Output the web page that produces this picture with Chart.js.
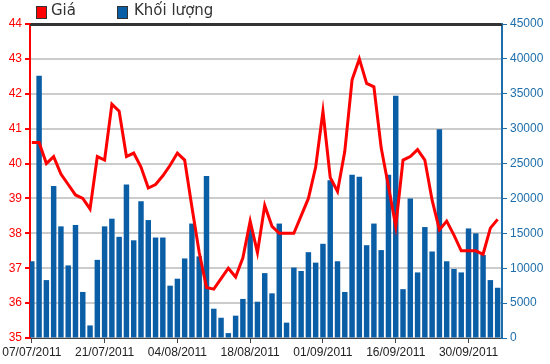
<!DOCTYPE html>
<html>
<head>
<meta charset="utf-8">
<script src="https://cdn.jsdelivr.net/npm/chart.js@4/dist/chart.umd.min.js"></script>
<style>
  body { margin: 0; background: #fff; }
  #wrap { position: relative; width: 550px; height: 364px; }
  .box { position: absolute; top: 6px; width: 9px; height: 11px; border: 1px solid #333; }
  .lbl { position: absolute; top: 1px; font: 15px "DejaVu Sans", sans-serif; color: #333; }
</style>
</head>
<body>
<div id="wrap">
  <canvas id="myChart" width="550" height="364"></canvas>
  <div class="box" style="left:36px;background:#ff0000"></div>
  <div class="lbl" style="left:51px">Giá</div>
  <div class="box" style="left:117px;background:#0a5ea6"></div>
  <div class="lbl" style="left:134px">Khối lượng</div>
</div>
<script>
// trading days 07/07/2011 - 06/10/2011
var dates = ['07/07/2011','08/07/2011','11/07/2011','12/07/2011','13/07/2011','14/07/2011','15/07/2011','18/07/2011','19/07/2011','20/07/2011',
  '21/07/2011','22/07/2011','25/07/2011','26/07/2011','27/07/2011','28/07/2011','29/07/2011','01/08/2011','02/08/2011','03/08/2011',
  '04/08/2011','05/08/2011','08/08/2011','09/08/2011','10/08/2011','11/08/2011','12/08/2011','15/08/2011','16/08/2011','17/08/2011',
  '18/08/2011','19/08/2011','22/08/2011','23/08/2011','24/08/2011','25/08/2011','26/08/2011','29/08/2011','30/08/2011','31/08/2011',
  '01/09/2011','05/09/2011','06/09/2011','07/09/2011','08/09/2011','09/09/2011','12/09/2011','13/09/2011','14/09/2011','15/09/2011',
  '16/09/2011','19/09/2011','20/09/2011','21/09/2011','22/09/2011','23/09/2011','26/09/2011','27/09/2011','28/09/2011','29/09/2011',
  '30/09/2011','03/10/2011','04/10/2011','05/10/2011','06/10/2011'];

var gia = [40.6,40.6,40.0,40.2,39.7,39.4,39.1,39.0,38.7,40.2,
  40.1,41.7,41.5,40.2,40.3,39.9,39.3,39.4,39.65,39.95,
  40.3,40.1,38.75,37.45,36.45,36.4,36.7,37.0,36.75,37.3,
  38.35,37.45,38.8,38.2,38.0,38.0,38.0,38.5,39.0,39.9,
  41.5,39.6,39.2,40.35,42.4,43.0,42.3,42.2,40.45,39.35,
  38.2,40.1,40.2,40.4,40.1,38.95,38.1,38.35,37.95,37.5,
  37.5,37.5,37.4,38.15,38.4];

var khoiLuong = [11000,37600,8300,21800,16000,10400,16200,6600,1800,11200,
  16000,17100,14500,22000,14000,19600,16900,14400,14400,7500,
  8500,11400,16400,11700,23200,4200,2900,700,3200,5600,
  15700,5200,9300,6400,16400,2200,10100,9600,12300,10800,
  13500,22600,11000,6600,23400,23100,13300,16400,12600,23400,
  34700,7000,20000,9400,15900,12400,29900,11000,9900,9400,
  15700,15000,11900,8300,7200];

var redC = '#ff0000';
var blueC = '#0a5ea6';
var blueAxis = '#1f6eab';
var tickFont = { family: '"Liberation Sans", Arial, sans-serif', size: 12 };

// dark line along the top of the plot
var topLine = {
  id: 'topLine',
  afterDatasetsDraw: function (chart) {
    var a = chart.chartArea, c = chart.ctx;
    c.save();
    c.strokeStyle = '#333333';
    c.lineWidth = 2;
    c.beginPath();
    c.moveTo(a.left, a.top + 1);
    c.lineTo(a.right, a.top + 1);
    c.stroke();
    c.restore();
  }
};

var ctx = document.getElementById('myChart').getContext('2d');
var myChart = new Chart(ctx, {
  data: {
    datasets: [{
      type: 'line',
      label: 'Giá',
      data: gia.map(function (v, i) { return { x: i, y: v }; }),
      yAxisID: 'yPrice',
      borderColor: redC,
      borderWidth: 3,
      pointRadius: 0,
      tension: 0,
      order: 1
    }, {
      type: 'bar',
      label: 'Khối lượng',
      data: khoiLuong.map(function (v, i) { return { x: i, y: v }; }),
      yAxisID: 'yVol',
      backgroundColor: blueC,
      barPercentage: 0.75,
      categoryPercentage: 1,
      order: 2
    }]
  },
  plugins: [topLine],
  options: {
    responsive: false,
    animation: false,
    layout: { padding: { top: 24, left: 0, right: 0, bottom: 0 } },
    plugins: { legend: { display: false }, tooltip: { enabled: false } },
    scales: {
      x: {
        type: 'linear',
        offset: false,
        min: -0.25,
        max: 64.6,
        afterFit: function (s) { s.height = 26; },
        ticks: {
          stepSize: 10,
          includeBounds: false,
          autoSkip: false,
          maxRotation: 0,
          padding: 2,
          color: '#222',
          font: tickFont,
          callback: function (v) { return dates[v] || ''; }
        },
        grid: { offset: false, drawOnChartArea: false, tickLength: 5, tickColor: '#444' },
        border: { color: '#444', width: 1 }
      },
      yPrice: {
        position: 'left',
        min: 35,
        max: 44,
        afterFit: function (s) { s.width = 30; },
        ticks: { stepSize: 1, color: redC, font: tickFont, padding: 3 },
        grid: {
          color: function (c) { return c.index === 9 ? '#333333' : '#cccccc'; },
          lineWidth: 2, tickLength: 5, tickColor: redC
        },
        border: { color: redC, width: 2 }
      },
      yVol: {
        position: 'right',
        min: 0,
        max: 45000,
        afterFit: function (s) { s.width = 48; },
        ticks: {
          stepSize: 5000, color: blueAxis, font: tickFont, padding: 3,
          callback: function (v) { return String(v); }
        },
        grid: { drawOnChartArea: false, tickLength: 5, tickColor: blueAxis },
        border: { color: blueAxis, width: 2 }
      }
    }
  }
});
</script>
</body>
</html>
